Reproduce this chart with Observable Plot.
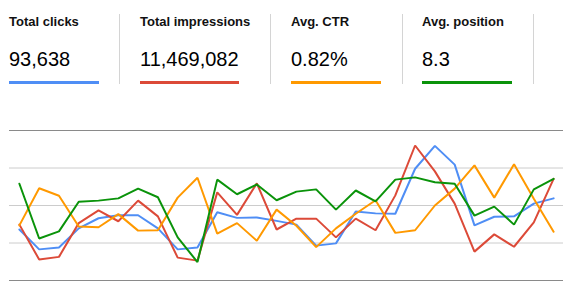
<!DOCTYPE html>
<html>
<head>
<meta charset="utf-8">
<script src="https://cdn.jsdelivr.net/npm/d3@7"></script>
<script src="https://cdn.jsdelivr.net/npm/@observablehq/plot@0.6"></script>
<style>
  html, body { margin: 0; padding: 0; background: #fff; }
  body { width: 574px; height: 288px; position: relative; overflow: hidden; font-family: "Liberation Sans", Arial, sans-serif; color: #000; }
  .card { position: absolute; top: 0; }
  .title { position: absolute; top: 15px; font-size: 13px; line-height: 13px; font-weight: bold; white-space: nowrap; color: #111; }
  .value { position: absolute; top: 49px; font-size: 20px; line-height: 20px; white-space: nowrap; color: #000; }
  .bar { position: absolute; top: 81px; height: 2.5px; }
  .divider { position: absolute; top: 14px; height: 70px; width: 1px; background: #d4d4d4; }
  #chart { position: absolute; left: 0; top: 100px; }
</style>
</head>
<body>
<div id="header"></div>
<div id="chart"></div>
<script>
const metricTitles = ["Total clicks", "Total impressions", "Avg. CTR", "Avg. position"];
const metricValues = ["93,638", "11,469,082", "0.82%", "8.3"];
const metricColors = ["#4f8ef5", "#dc4a38", "#ff9900", "#0a930a"];

// normalized series values (0–4 grid units), one point per day
const clicks = [1.36, 0.83, 0.88, 1.39, 1.66, 1.74, 1.74, 1.39, 0.83, 0.88, 1.82, 1.67, 1.68, 1.59, 1.49, 0.93, 0.99, 1.84, 1.79, 1.78, 2.98, 3.59, 3.09, 1.47, 1.70, 1.71, 2.05, 2.19];
const impressions = [1.49, 0.56, 0.63, 1.53, 1.87, 1.58, 2.13, 1.71, 0.61, 0.53, 2.35, 1.75, 2.59, 1.36, 1.65, 1.65, 1.15, 1.65, 1.34, 2.27, 3.60, 2.91, 2.05, 0.77, 1.23, 0.90, 1.55, 2.71];
const ctr = [1.47, 2.46, 2.26, 1.44, 1.42, 1.77, 1.33, 1.34, 2.21, 2.74, 1.25, 1.53, 1.06, 1.89, 1.46, 0.89, 1.39, 1.78, 2.14, 1.27, 1.34, 2.00, 2.45, 3.07, 2.21, 3.10, 2.18, 1.30];
const position = [2.58, 1.12, 1.31, 2.10, 2.13, 2.19, 2.45, 2.22, 1.15, 0.49, 2.69, 2.30, 2.56, 2.14, 2.37, 2.43, 1.89, 2.40, 2.11, 2.69, 2.75, 2.62, 2.58, 1.73, 1.97, 1.49, 2.43, 2.71];
const gridLevels = [0, 1, 2, 3, 4];

// header layout
const cardLeft = [9, 140, 291, 422];
const barWidth = [90, 99, 90, 90];
const dividerX = [119, 270, 402, 533];
const header = document.getElementById("header");
metricTitles.forEach((t, i) => {
  const title = document.createElement("div");
  title.className = "title"; title.style.left = cardLeft[i] + "px"; title.textContent = t;
  const val = document.createElement("div");
  val.className = "value"; val.style.left = cardLeft[i] + "px"; val.textContent = metricValues[i];
  const bar = document.createElement("div");
  bar.className = "bar"; bar.style.left = cardLeft[i] + "px"; bar.style.width = barWidth[i] + "px"; bar.style.background = metricColors[i];
  const div = document.createElement("div");
  div.className = "divider"; div.style.left = dividerX[i] + "px";
  header.append(title, val, bar, div);
});

const seriesList = [clicks, impressions, ctr, position];
const rows = [];
seriesList.forEach((s, si) => s.forEach((v, i) => rows.push({series: metricTitles[si], i, v})));

const chart = Plot.plot({
  width: 574,
  height: 188,
  marginTop: 30,
  marginBottom: 8,
  marginLeft: 9,
  marginRight: 11,
  x: {domain: [-0.5, clicks.length - 0.5], axis: null},
  y: {domain: [0, 4], axis: null},
  color: {domain: metricTitles, range: metricColors},
  marks: [
    Plot.ruleY(gridLevels.filter(g => g > 0 && g < 4), {stroke: "#cccccc", strokeWidth: 1}),
    Plot.ruleY([0, 4], {stroke: "#8a8a8a", strokeWidth: 1.2}),
    Plot.line(rows, {x: "i", y: "v", z: "series", stroke: "series", strokeWidth: 2, strokeLinejoin: "miter"})
  ]
});
document.getElementById("chart").append(chart);
</script>
</body>
</html>
